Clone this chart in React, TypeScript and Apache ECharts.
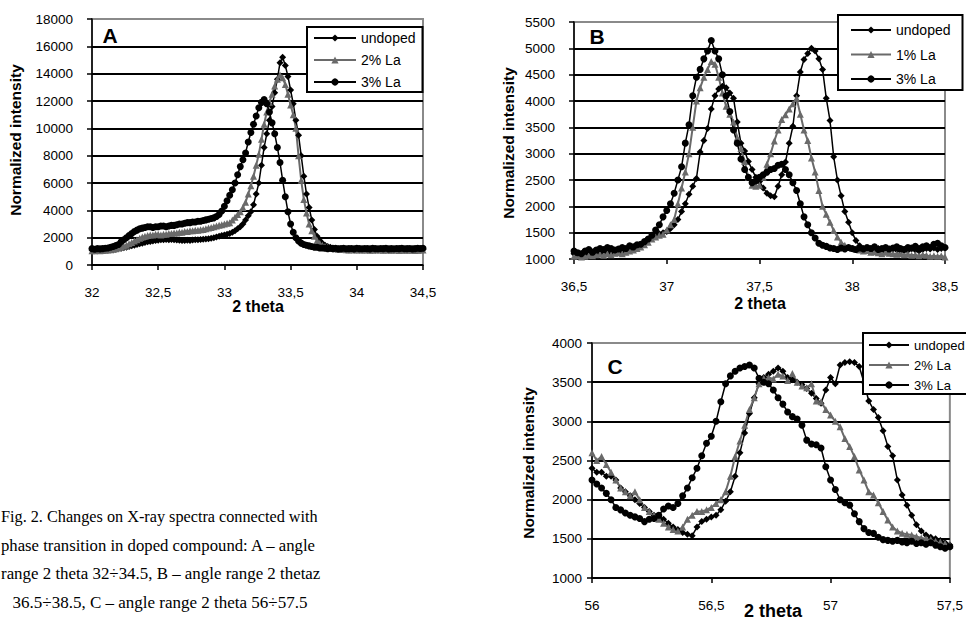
import React, { useEffect, useRef } from "react";
import * as echarts from "echarts";

// ---------- Panel A : 2 theta 32 ... 34.5, step 0.02 ----------
const A_START = 32;
const A_STEP = 0.02;
const A_UNDOPED = [
  1100, 1080, 1120, 1100, 1090, 1110, 1130, 1150, 1120, 1160, 1200,
  1220, 1260, 1300, 1350, 1400, 1450, 1500, 1560, 1600, 1650,
  1700, 1720, 1760, 1800, 1820, 1850, 1840, 1860, 1850, 1870,
  1850, 1830, 1820, 1800, 1790, 1810, 1800, 1830, 1850, 1840,
  1860, 1880, 1900, 1920, 1950, 2000, 2050, 2100, 2150, 2200,
  2250, 2300, 2400, 2500, 2650, 2800, 3000, 3300, 3600, 3900,
  4400, 5200, 6000, 7300, 8600, 9600, 10600, 11600, 12600, 13600,
  14800, 15200, 14600, 13800, 12800, 11800, 10600, 9500, 8000, 6500,
  5200, 4200, 3300, 2600, 2100, 1800, 1600, 1450, 1350, 1300,
  1250, 1200, 1180, 1150, 1170, 1140, 1150, 1130, 1160, 1120, 1140, 1150, 1110, 1130, 1120,
  1150, 1100, 1130, 1120, 1110, 1140, 1100, 1120, 1130, 1100, 1110, 1140, 1120, 1100, 1130,
  1110, 1150, 1120, 1160, 1150,
];
const A_LA2 = [
  1050, 1040, 1060, 1050, 1070, 1080, 1100, 1120, 1150, 1180, 1250,
  1300, 1380, 1450, 1550, 1650, 1750, 1850, 1950, 2050, 2100,
  2150, 2200, 2200, 2250, 2250, 2200, 2250, 2250, 2300, 2300,
  2350, 2350, 2400, 2400, 2450, 2450, 2500, 2500, 2550, 2550,
  2580, 2600, 2650, 2700, 2750, 2800, 2850, 2900, 2950, 3000,
  3050, 3100, 3300, 3500, 3700, 3900, 4200, 4600, 5200, 5800,
  6500, 7300, 8100, 9200, 10300, 11200, 11900, 12500, 13100, 13600,
  13900, 13700, 13200, 12500, 11700, 11000, 10000, 8000, 6200, 4800,
  3800, 3000, 2500, 2100, 1800, 1600, 1450, 1350, 1300, 1250,
  1200, 1180, 1150, 1130, 1150, 1120, 1100, 1120, 1110, 1100, 1120, 1090, 1100, 1110, 1080,
  1100, 1090, 1110, 1100, 1080, 1090, 1100, 1080, 1100, 1090, 1070, 1090, 1080, 1100, 1080,
  1090, 1070, 1080, 1100, 1090,
];
const A_LA3 = [
  1200, 1150, 1200, 1180, 1200, 1220, 1250, 1300, 1350, 1420, 1500,
  1700, 1850, 2000, 2150, 2300, 2450, 2550, 2650, 2700, 2750,
  2800, 2800, 2750, 2800, 2800, 2850, 2850, 2800, 2850, 2900,
  2900, 2950, 3000, 3000, 3050, 3100, 3100, 3150, 3150, 3200,
  3200, 3250, 3300, 3350, 3400, 3450, 3550, 3700, 3950, 4300,
  4700, 5100, 5500, 6000, 6600, 7200, 7700, 8200, 9000, 9700,
  10300, 10900, 11500, 11900, 12100, 11800, 11200, 10400, 9600, 8600,
  7500, 6200, 5000, 3900, 3000, 2400, 2000, 1750, 1600, 1500,
  1450, 1400, 1350, 1300, 1300, 1250, 1250, 1220, 1200, 1230,
  1200, 1220, 1180, 1200, 1230, 1190, 1200, 1210, 1180, 1220, 1200, 1190, 1210, 1200, 1180,
  1230, 1200, 1190, 1210, 1200, 1220, 1180, 1200, 1190, 1210, 1200, 1220, 1190, 1200, 1210,
  1180, 1200, 1220, 1210, 1230,
];

// ---------- Panel B : 2 theta 36.5 ... 38.5, step 0.02 ----------
const B_START = 36.5;
const B_STEP = 0.02;
const B_UNDOPED = [
  1100, 1080, 1100, 1120, 1090, 1100, 1130, 1110, 1150, 1130, 1120, 1160, 1150, 1130, 1170, 1200, 1180, 1220,
  1250, 1300, 1350, 1400, 1450, 1480, 1500, 1520, 1580, 1650,
  1750, 1900, 2050, 2230, 2380, 2530, 3030, 3250, 3480, 3850,
  4100, 4230, 4280, 4250, 4150, 4050, 3600, 3200, 3050, 2850,
  2700, 2550, 2470, 2350, 2250, 2200, 2180, 2380, 2600, 2840,
  3200, 3520, 4100, 4550, 4790, 4900, 5000, 4950, 4800, 4600,
  4050, 3630, 2940, 2500, 2200, 1900, 1700, 1500, 1350, 1250,
  1200, 1180, 1150, 1170, 1200, 1160, 1150, 1180, 1200, 1170,
  1150, 1180, 1160, 1200, 1170, 1150, 1180, 1200, 1190, 1210,
  1180, 1200, 1210,
];
const B_LA1 = [
  1050, 1060, 1040, 1050, 1070, 1060, 1080, 1090, 1070, 1100, 1080, 1110, 1120, 1100, 1130, 1150, 1170, 1200,
  1230, 1270, 1320, 1380, 1420, 1450, 1470, 1550, 1650, 1750,
  2050, 2350, 2650, 3000, 3500, 4000, 4250, 4450, 4600, 4750,
  4700, 4450, 4150, 3900, 3750, 3600, 3300, 3100, 2850, 2550,
  2400, 2380, 2400, 2550, 2800, 3000, 3240, 3450, 3650, 3740,
  3850, 3950, 4050, 3750, 3450, 3250, 2920, 2650, 2300, 2000,
  1850, 1700, 1540, 1420, 1320, 1260, 1220, 1200, 1180, 1170,
  1150, 1160, 1130, 1140, 1120, 1100, 1130, 1110, 1100, 1090,
  1100, 1080, 1090, 1070, 1080, 1060, 1080, 1070, 1050, 1060,
  1050, 1060, 1040,
];
const B_LA3 = [
  1150, 1120, 1100, 1150, 1180, 1130, 1170, 1200, 1180, 1220, 1200, 1170, 1190, 1220, 1200, 1250, 1230, 1270,
  1280, 1330, 1380, 1450, 1550, 1650, 1800, 1920, 2050, 2250,
  2500, 2750, 3200, 3550, 4100, 4450, 4600, 4800, 4950, 5150,
  4950, 4800, 4500, 4100, 3800, 3450, 3200, 2900, 2700, 2550,
  2450, 2480, 2550, 2600, 2650, 2700, 2720, 2780, 2800, 2700,
  2600, 2450, 2300, 2050, 1800, 1650, 1500, 1400, 1300, 1260,
  1240, 1210, 1200, 1180, 1210, 1190, 1220, 1200, 1180, 1210,
  1190, 1220, 1200, 1230, 1180, 1200, 1220, 1190, 1210, 1230,
  1200, 1180, 1220, 1210, 1240, 1200, 1230, 1250, 1220, 1280,
  1300, 1250, 1220,
];

// ---------- Panel C : 2 theta 56 ... 57.5, step 0.02 ----------
const C_START = 56;
const C_STEP = 0.02;
const C_UNDOPED = [
  2400, 2350, 2350, 2300, 2300, 2250, 2150, 2100, 2050, 2000,
  1950, 1900, 1850, 1800, 1780, 1750, 1700, 1650, 1620, 1580,
  1560, 1540, 1650, 1720, 1750, 1780, 1800, 1870, 1980, 2100,
  2300, 2600, 2850, 3100, 3300, 3480, 3560, 3600, 3640, 3680,
  3640, 3560, 3530, 3500, 3470, 3420, 3360, 3290, 3230, 3400,
  3560, 3480, 3720, 3750, 3760, 3750, 3700, 3500, 3260, 3150,
  3050, 2880, 2680, 2560, 2250, 2060, 1930, 1800, 1680, 1600,
  1550, 1520, 1500, 1480, 1450, 1420,
];
const C_LA2 = [
  2600, 2500, 2550, 2450, 2350, 2250, 2150, 2100, 2050, 2100,
  2000, 1900, 1850, 1800, 1750, 1700, 1650, 1620, 1600, 1650,
  1750, 1800, 1850, 1850, 1870, 1900, 1950, 2000, 2100, 2300,
  2550, 2750, 2950, 3150, 3300, 3480, 3550, 3560, 3540, 3600,
  3580, 3520, 3610, 3500, 3450, 3430, 3480, 3260, 3250, 3150,
  3080, 3000, 2930, 2780, 2680, 2550, 2380, 2250, 2100, 2060,
  1960, 1850, 1740, 1650, 1600, 1570, 1560, 1550, 1530, 1510,
  1500, 1490, 1470, 1460, 1440, 1420,
];
const C_LA3 = [
  2250, 2200, 2150, 2080, 2000, 1900, 1870, 1830, 1800, 1780,
  1760, 1720, 1750, 1760, 1800, 1880, 1920, 1900, 1950, 2050,
  2150, 2280, 2400, 2560, 2720, 2810, 3000, 3250, 3480, 3580,
  3640, 3680, 3700, 3720, 3680, 3550, 3500, 3480, 3400, 3300,
  3220, 3120, 3060, 3030, 2950, 2760, 2710, 2700, 2660, 2420,
  2250, 2130, 2000, 1960, 1930, 1820, 1720, 1630, 1580, 1570,
  1520, 1490, 1480, 1470, 1480, 1460, 1450, 1470, 1440, 1450,
  1430, 1450, 1420, 1400, 1380, 1400,
];

// ---------- labels ----------
const LEGEND_A = ["undoped", "2% La", "3% La"];
const LEGEND_B = ["undoped", "1% La", "3% La"];
const LEGEND_C = ["undoped", "2% La", "3% La"];
const PANEL_LABELS = ["A", "B", "C"];
const X_TITLE = "2 theta";
const Y_TITLE = "Normalized intensity";
const CAPTION = [
  "Fig. 2. Changes on X-ray spectra connected with",
  "phase transition in doped compound: A – angle",
  "range 2 theta 32÷34.5, B – angle range 2 thetaz",
  "36.5÷38.5, C – angle range 2 theta 56÷57.5",
];

const SANS = '"Liberation Sans", Arial, sans-serif';
const SERIF = '"Liberation Serif", "Times New Roman", serif';
const GRAY = "#6a6a6a";

function pairs(start: number, step: number, ys: number[]) {
  return ys.map((y, i) => [Number((start + i * step).toFixed(2)), y]);
}

function styleFor(name: string) {
  if (name === "undoped") return { symbol: "diamond", color: "#000", width: 1.5 };
  if (name === "3% La") return { symbol: "circle", color: "#000", width: 1.5 };
  return { symbol: "triangle", color: GRAY, width: 2 };
}

function mkSeries(name: string, data: number[][], idx: number, size: number) {
  const s = styleFor(name);
  return {
    type: "line",
    name,
    xAxisIndex: idx,
    yAxisIndex: idx,
    data,
    symbol: s.symbol,
    symbolSize: size,
    showSymbol: true,
    lineStyle: { color: s.color, width: s.width },
    itemStyle: { color: s.color },
    emphasis: { disabled: true },
    animation: false,
  };
}

const commaFmt = (v: number) => String(v).replace(".", ",");

function mkX(idx: number, min: number, max: number) {
  return {
    type: "value",
    gridIndex: idx,
    min,
    max,
    interval: 0.5,
    axisLine: { show: true, lineStyle: { color: "#000", width: 1.5 } },
    axisTick: { show: true, length: 5, lineStyle: { color: "#000", width: 1.5 } },
    axisLabel: { formatter: commaFmt, color: "#000", fontSize: 13.5, fontFamily: SANS, margin: 20 },
    splitLine: { show: false },
  };
}

function mkY(idx: number, min: number, max: number, interval: number, margin: number) {
  return {
    type: "value",
    gridIndex: idx,
    min,
    max,
    interval,
    axisLine: { show: true, lineStyle: { color: "#000", width: 1.5 } },
    axisTick: { show: true, length: 5, lineStyle: { color: "#000", width: 1.5 } },
    axisLabel: { formatter: (v: number) => String(v), color: "#000", fontSize: 13.5, fontFamily: SANS, margin },
    splitLine: { show: true, showMaxLine: false, lineStyle: { color: "#000", width: 2 } },
  };
}

function mkLegend(names: string[], left: number, top: number, padding: number[], itemWidth: number, itemGap: number, fontSize: number) {
  return {
    data: names,
    orient: "vertical",
    left,
    top,
    padding,
    itemWidth,
    itemHeight: 9,
    itemGap,
    selectedMode: false,
    backgroundColor: "#fff",
    borderColor: "#000",
    borderWidth: 2,
    borderRadius: 0,
    textStyle: { color: "#000", fontSize, fontFamily: SANS, lineHeight: 14 },
  };
}

export default function App() {
  const ref = useRef<HTMLDivElement>(null);

  useEffect(() => {
    if (!ref.current) return;
    const chart = echarts.init(ref.current, null, { renderer: "svg" });

    const gridBase = { show: true, borderColor: "#8a8a8a", borderWidth: 2, backgroundColor: "transparent" };

    const yTitle = (x: number, y: number) => ({
      type: "text",
      x,
      y,
      rotation: Math.PI / 2,
      style: { text: Y_TITLE, fill: "#000", fontSize: 15.5, fontWeight: "bold", fontFamily: SANS, align: "center", verticalAlign: "middle" },
    });
    const xTitle = (x: number, y: number, fs: number) => ({
      type: "text",
      x,
      y,
      style: { text: X_TITLE, fill: "#000", fontSize: fs, fontWeight: "bold", fontFamily: SANS, align: "center", verticalAlign: "middle" },
    });
    const panelLabel = (t: string, x: number, y: number) => ({
      type: "text",
      x,
      y,
      z: 100,
      style: { text: t, fill: "#000", fontSize: 21, fontWeight: "bold", fontFamily: SANS, align: "center", verticalAlign: "middle" },
    });
    const captionX = [1, 1, 1, 160];
    const captionScale = [0.955, 0.983, 0.995, 1];
    const captionY = [516, 545, 573, 602];
    const caption = CAPTION.map((t, i) => ({
      type: "text",
      x: captionX[i],
      y: captionY[i],
      scaleX: captionScale[i],
      style: {
        text: t,
        fill: "#000",
        fontSize: 17,
        fontFamily: SERIF,
        align: i === 3 ? "center" : "left",
        verticalAlign: "middle",
      },
    }));

    chart.setOption({
      animation: false,
      backgroundColor: "#fff",
      grid: [
        { ...gridBase, left: 92, top: 19, width: 331, height: 246 },
        { ...gridBase, left: 574, top: 22, width: 371, height: 237 },
        { ...gridBase, left: 592, top: 343, width: 358, height: 235 },
      ],
      xAxis: [mkX(0, 32, 34.5), mkX(1, 36.5, 38.5), mkX(2, 56, 57.5)],
      yAxis: [mkY(0, 0, 18000, 2000, 19), mkY(1, 1000, 5500, 500, 19), mkY(2, 1000, 4000, 500, 10)],
      legend: [
        mkLegend(LEGEND_A, 307, 27, [4, 7, 3, 6], 42, 8, 14),
        mkLegend(LEGEND_B, 838, 15, [8, 12, 4, 12], 40, 10.5, 14),
        mkLegend(LEGEND_C, 863, 333, [5, 12, 2, 5], 40, 6, 13),
      ],
      series: [
        mkSeries(LEGEND_A[0], pairs(A_START, A_STEP, A_UNDOPED), 0, 7),
        mkSeries(LEGEND_A[1], pairs(A_START, A_STEP, A_LA2), 0, 7),
        mkSeries(LEGEND_A[2], pairs(A_START, A_STEP, A_LA3), 0, 7),
        mkSeries(LEGEND_B[0], pairs(B_START, B_STEP, B_UNDOPED), 1, 7),
        mkSeries(LEGEND_B[1], pairs(B_START, B_STEP, B_LA1), 1, 7),
        mkSeries(LEGEND_B[2], pairs(B_START, B_STEP, B_LA3), 1, 7),
        mkSeries(LEGEND_C[0], pairs(C_START, C_STEP, C_UNDOPED), 2, 7),
        mkSeries(LEGEND_C[1], pairs(C_START, C_STEP, C_LA2), 2, 7),
        mkSeries(LEGEND_C[2], pairs(C_START, C_STEP, C_LA3), 2, 7),
      ],
      graphic: [
        panelLabel(PANEL_LABELS[0], 110, 35),
        panelLabel(PANEL_LABELS[1], 597, 36),
        panelLabel(PANEL_LABELS[2], 615, 366),
        yTitle(15, 140),
        yTitle(508, 143),
        yTitle(528, 463),
        xTitle(258, 306, 16),
        xTitle(760, 303, 16),
        xTitle(773, 611, 18),
        ...caption,
      ],
    });

    return () => chart.dispose();
  }, []);

  return (
    <div
      ref={ref}
      style={{ position: "fixed", left: 0, top: 0, width: 966, height: 620, background: "#fff" }}
    />
  );
}
